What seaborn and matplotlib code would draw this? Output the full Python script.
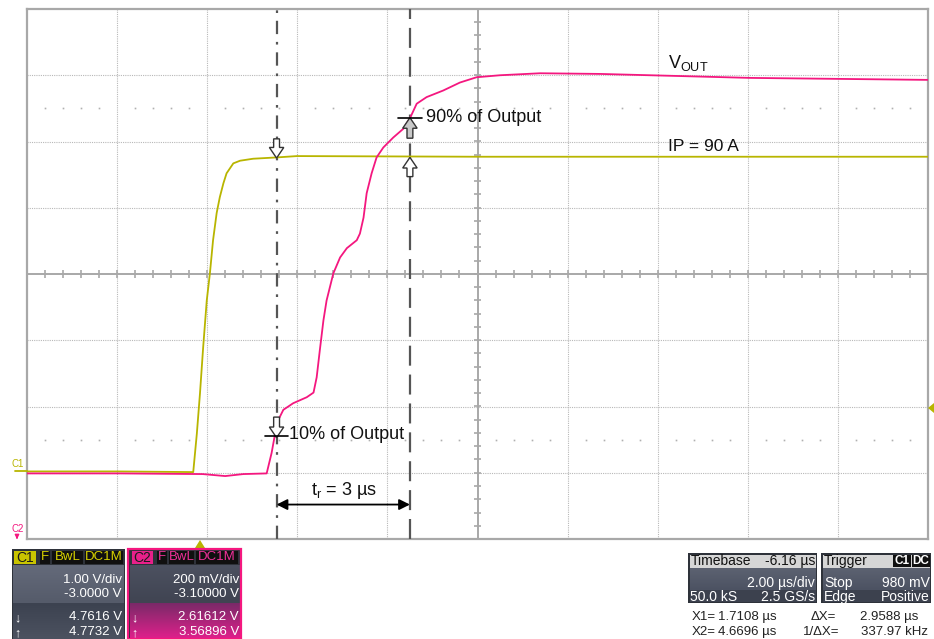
import numpy as np
import pandas as pd
import matplotlib
matplotlib.use('Agg')
import matplotlib.pyplot as plt
import seaborn as sns
from matplotlib.patches import Rectangle, FancyArrow, Polygon
from matplotlib.colors import LinearSegmentedColormap

# ---- data: time in us from left edge of screen (2 us/div), amplitude in divisions ----
c1_t = [0.0, 2.0, 3.69, 3.77, 3.84, 3.91, 3.99, 4.06, 4.13, 4.21, 4.28, 4.36,
        4.43, 4.58, 4.73, 5.02, 5.55, 5.99, 10.0, 15.0, 20.0]
c1_v = [-2.98, -2.98, -2.99, -2.41, -1.80, -1.11, -0.40, 0.01, 0.51, 0.92, 1.16, 1.37,
        1.52, 1.67, 1.71, 1.74, 1.76, 1.78, 1.77, 1.77, 1.77]

c2_t = [0.0, 2.06, 3.90, 4.40, 4.80, 5.32, 5.43, 5.51, 5.58, 5.69, 5.91, 6.21, 6.36,
        6.43, 6.50, 6.58, 6.65, 6.80, 6.95, 7.10, 7.32, 7.39, 7.47, 7.54, 7.65,
        7.76, 7.91, 8.13, 8.35, 8.50, 8.65, 8.87, 9.24, 9.61, 9.98, 10.50, 11.39,
        12.72, 16.05, 20.0]
c2_v = [-3.01, -3.01, -3.02, -3.05, -3.02, -3.01, -2.70, -2.40, -2.20, -2.05, -1.95, -1.86, -1.79,
        -1.56, -1.15, -0.70, -0.40, 0.01, 0.25, 0.39, 0.51, 0.61, 0.85, 1.22, 1.52,
        1.76, 1.91, 2.06, 2.19, 2.35, 2.57, 2.67, 2.77, 2.89, 2.97, 3.00, 3.03,
        3.02, 2.96, 2.93]

x1_cursor = 5.54
x2_cursor = 8.50
level_10 = -2.45
level_90 = 2.36

c1_info = ["1.00 V/div", "-3.0000 V", "4.7616 V", "4.7732 V"]
c2_info = ["200 mV/div", "-3.10000 V", "2.61612 V", "3.56896 V"]

YEL = '#b8b500'
PINK = '#f4177f'

sns.set_theme(style='white')
plt.rcParams['font.family'] = ['Liberation Sans', 'DejaVu Sans']

W, H = 934, 639
fig = plt.figure(figsize=(W / 100, H / 100), dpi=100)
fig.patch.set_facecolor('white')

# main scope screen
ax = fig.add_axes([27 / W, (H - 539) / H, 901 / W, 530 / H])
df = pd.concat([
    pd.DataFrame({'t': c1_t, 'v': c1_v, 'ch': 'C1'}),
    pd.DataFrame({'t': c2_t, 'v': c2_v, 'ch': 'C2'}),
])
sns.lineplot(data=df, x='t', y='v', hue='ch', palette={'C1': YEL, 'C2': PINK},
             sort=False, estimator=None, legend=False, lw=1.3, ax=ax, zorder=5)
ax.set_xlim(0, 20)
ax.set_ylim(-4, 4)
ax.set_xticks([])
ax.set_yticks([])
ax.set_xlabel('')
ax.set_ylabel('')
for s in ax.spines.values():
    s.set_color('#a8a8a8')
    s.set_linewidth(1.6)

# graticule
for gx in range(2, 20, 2):
    if gx != 10:
        ax.axvline(gx, color='#b8b8b8', lw=0.8, ls=(0, (1, 1)), zorder=1)
for gy in range(-3, 4):
    if gy != 0:
        ax.axhline(gy, color='#b8b8b8', lw=0.8, ls=(0, (1, 1)), zorder=1)
ax.axvline(10, color='#a8a8a8', lw=1.4, zorder=1)
ax.axhline(0, color='#a8a8a8', lw=1.4, zorder=1)
tx = np.arange(0.4, 20, 0.4)
ax.vlines(tx, -0.06, 0.06, color='#a8a8a8', lw=1.2, zorder=1)
ty = np.arange(-3.8, 4, 0.2)
ax.hlines(ty, 10 - 0.08, 10 + 0.08, color='#a8a8a8', lw=1.2, zorder=1)
dx = [v for v in tx if abs(v / 2 - round(v / 2)) > 0.01]
for row in (2.5, -2.5):
    ax.plot(dx, [row] * len(dx), ls='none', marker='s', ms=1.2, color='#b0b0b0',
            mec='none', zorder=1)

# cursors
ax.axvline(x1_cursor, color='#555555', lw=1.6, ls=(0, (6, 3.5, 1.2, 3.5)), zorder=4)
ax.axvline(x2_cursor, color='#555555', lw=1.6, ls=(0, (9, 4)), zorder=4)

# hollow markers
def hollow(x, y0, y1, fc='white'):
    ax.add_patch(FancyArrow(x, y0, 0, y1 - y0, width=0.13, head_width=0.32,
                            head_length=0.16, length_includes_head=True,
                            fc=fc, ec='#333333', lw=1.0, zorder=7))

hollow(x1_cursor, 2.04, 1.75)
hollow(x1_cursor, -2.16, -2.47)
hollow(x2_cursor, 2.05, 2.36, fc='#c8c8c8')
hollow(x2_cursor, 1.47, 1.76)
ax.plot([5.28, 5.79], [level_10, level_10], color='black', lw=1.2, zorder=8)
ax.plot([8.24, 8.77], [level_90, level_90], color='black', lw=1.2, zorder=8)

ax.text(8.86, level_90, '90% of Output', fontsize=13, va='center', ha='left', color='#111111')
ax.text(5.82, level_10 + 0.02, '10% of Output', fontsize=13, va='center', ha='left', color='#111111')
ax.text(14.22, 3.18, r'V$_{\mathregular{OUT}}$', fontsize=13, va='center', ha='left', color='#111111')
ax.text(14.22, 1.93, 'IP = 90 A', fontsize=12.5, va='center', ha='left', color='#111111')
ax.text(7.03, -3.27, r't$_{\mathregular{r}}$ = 3 µs', fontsize=13, va='center', ha='center', color='#111111')
ax.annotate('', xy=(x1_cursor, -3.48), xytext=(x2_cursor, -3.48),
            arrowprops=dict(arrowstyle='<|-|>', color='black', lw=1.3,
                            mutation_scale=16, shrinkA=0, shrinkB=0), zorder=8)

# overlay in pixel coordinates for everything outside the screen
ov = fig.add_axes([0, 0, 1, 1], zorder=10)
ov.patch.set_alpha(0)
ov.axis('off')

def box(x0, y0, x1, y1, fc, ec='none', lw=0, z=3):
    ov.add_patch(Rectangle((x0, y0), x1 - x0, y1 - y0, fc=fc, ec=ec, lw=lw, zorder=z))

def grad(x0, y0, x1, y1, c_top, c_bot):
    cm = LinearSegmentedColormap.from_list('g', [c_top, c_bot])
    ov.imshow(np.linspace(0, 1, 64)[:, None], cmap=cm, aspect='auto',
              extent=[x0, x1, y1, y0], interpolation='bilinear', zorder=2)

def txt(x, y, s, ha='left', c='white', fs=9.5, **kw):
    ov.text(x, y, s, ha=ha, va='center', color=c, fontsize=fs, zorder=5, **kw)

# channel markers
ov.plot([15, 27], [471, 471], color=YEL, lw=1.3)
txt(12, 464, 'C1', c=YEL, fs=7)
txt(12, 529, 'C2', c=PINK, fs=7)
ov.annotate('', xy=(17, 542), xytext=(17, 534),
            arrowprops=dict(arrowstyle='-|>', color=PINK, lw=1, mutation_scale=6))
ov.add_patch(Polygon([[195, 548], [205, 548], [200, 540]], closed=True, fc=YEL, ec='none'))
ov.add_patch(Polygon([[934, 403], [934, 413], [928, 408]], closed=True, fc=YEL, ec='none'))

# C1 panel
box(12, 549, 125, 639, '#2e323a', z=1)
grad(13, 565, 124, 603, '#646a7a', '#555b6a')
grad(13, 603, 124, 639, '#3c4250', '#4c5260')
box(14, 551, 36, 564, '#c9c400')
txt(25, 557.5, 'C1', ha='center', c='#1a1a1a', fs=10)
for x0, x1, s in [(40, 50, 'F'), (52, 83, 'BwL'), (85, 123, 'DC1M')]:
    box(x0, 551, x1, 564, '#101010')
    txt((x0 + x1) / 2, 557.5, s, ha='center', c='#d8d200', fs=9.5)
txt(122, 580, c1_info[0], ha='right')
txt(122, 594, c1_info[1], ha='right')
txt(17, 618, '↓', ha='center', fs=9)
txt(17, 633, '↑', ha='center', fs=9)
txt(122, 617, c1_info[2], ha='right')
txt(122, 632, c1_info[3], ha='right')

# C2 panel
box(128, 549, 241, 639, '#2e323a', z=1)
grad(129.5, 565, 239.5, 603, '#4c5160', '#404452')
grad(129.5, 603, 239.5, 639, '#7a2a68', '#e0208c')
box(128, 549, 241, 639, 'none', ec=PINK, lw=1.6, z=4)
box(132, 551, 153, 564, '#e8208a')
txt(142.5, 557.5, 'C2', ha='center', c='#1a1a1a', fs=10)
for x0, x1, s in [(157, 167, 'F'), (169, 194, 'BwL'), (196, 238, 'DC1M')]:
    box(x0, 551, x1, 564, '#101010')
    txt((x0 + x1) / 2, 557.5, s, ha='center', c='#f0309a', fs=9.5)
txt(239, 580, c2_info[0], ha='right')
txt(239, 594, c2_info[1], ha='right')
txt(134, 618, '↓', ha='center', fs=9)
txt(134, 633, '↑', ha='center', fs=9)
txt(239, 617, c2_info[2], ha='right')
txt(239, 632, c2_info[3], ha='right')

# timebase / trigger panels
for x0, x1 in [(688, 817), (821, 931)]:
    box(x0, 553, x1, 603, '#2e323a', z=1)
    box(x0 + 1.5, 554.5, x1 - 1.5, 568, '#d6d6d6')
    grad(x0 + 1.5, 568, x1 - 1.5, 590, '#5c6271', '#4c5262')
    box(x0 + 1.5, 590, x1 - 1.5, 601.5, '#3c414e')
txt(691, 561, 'Timebase', c='#111111', fs=10)
txt(815, 561, '-6.16 µs', ha='right', c='#111111', fs=10)
txt(815, 583, '2.00 µs/div', ha='right', fs=10)
txt(690, 597, '50.0 kS', fs=10)
txt(815, 597, '2.5 GS/s', ha='right', fs=10)
txt(824, 561, 'Trigger', c='#111111', fs=10)
box(893, 555, 911, 567, '#101010')
box(912, 555, 930, 567, '#101010')
txt(902, 561, 'C1', ha='center', fs=8.5, weight='bold')
txt(921, 561, 'DC', ha='center', fs=8.5, weight='bold')
txt(824, 583, 'Stop', fs=10)
txt(930, 583, '980 mV', ha='right', fs=10)
txt(824, 597, 'Edge', fs=10)
txt(930, 597, 'Positive', ha='right', fs=10)

# cursor readout
txt(692, 617, 'X1=', c='#222222', fs=9.5)
txt(718, 617, '1.7108 µs', c='#222222', fs=9.5)
txt(811, 617, 'ΔX=', c='#222222', fs=9.5)
txt(918, 617, '2.9588 µs', ha='right', c='#222222', fs=9.5)
txt(692, 632, 'X2=', c='#222222', fs=9.5)
txt(718, 632, '4.6696 µs', c='#222222', fs=9.5)
txt(803, 632, '1/ΔX=', c='#222222', fs=9.5)
txt(928, 632, '337.97 kHz', ha='right', c='#222222', fs=9.5)

ov.set_xlim(0, W)
ov.set_ylim(H, 0)

fig.savefig('out.png', dpi=100)
